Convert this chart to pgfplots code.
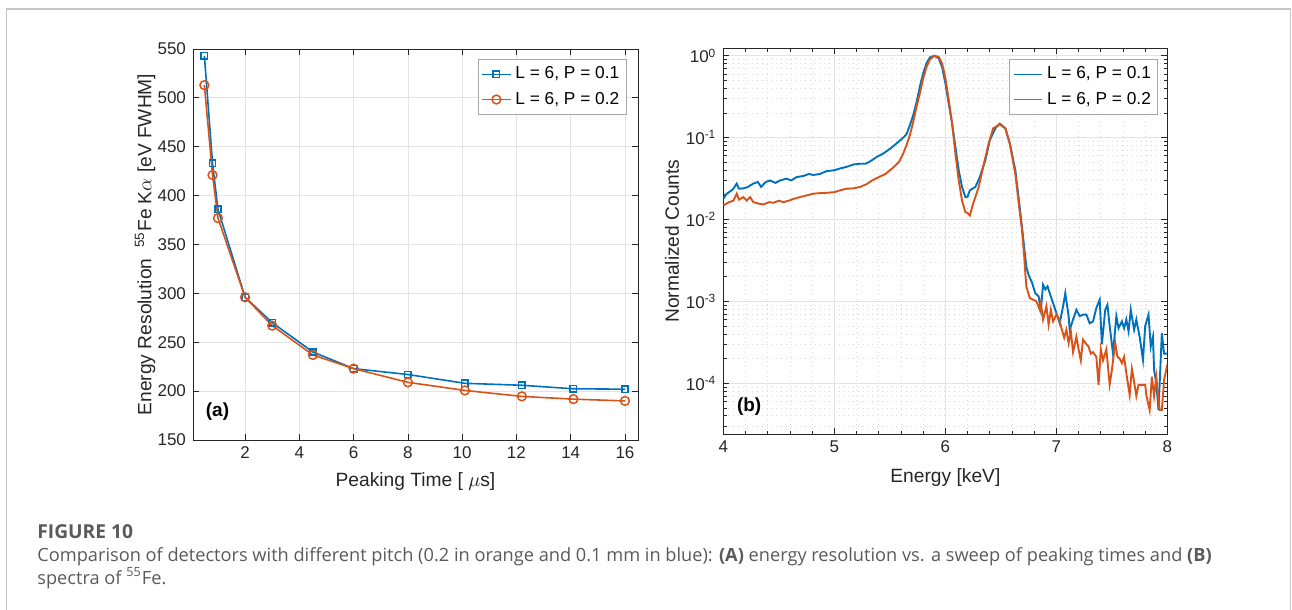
\documentclass[border=0pt]{standalone}
\usepackage{fontspec}
\setmainfont{Liberation Sans}
\newfontfamily\capfont{Open Sans}
\usepackage{pgfplots}
\pgfplotsset{compat=1.18}
\definecolor{mblue}{rgb}{0,0.447,0.741}
\definecolor{morange}{rgb}{0.85,0.325,0.098}
\definecolor{axgray}{rgb}{0.15,0.15,0.15}
\definecolor{capgray}{HTML}{5A5A5A}
\begin{document}
\begin{tikzpicture}
\useasboundingbox (0,0) rectangle (646pt,-305pt);
\draw[gray!45, line width=0.75pt] (3.35pt,-305pt) -- (3.35pt,-4.5pt) -- (645.25pt,-4.5pt) -- (645.25pt,-305pt);
\pgfplotsset{
  every axis/.append style={
    scale only axis,
    axis line style={axgray, line width=0.4pt},
    tick style={axgray, line width=0.4pt},
    major tick length=3pt, minor tick length=1.6pt,
    tick align=inside,
    /pgf/number format/assume math mode=true,
    tick label style={font=\fontsize{8.5}{10}\selectfont, text=axgray},
    label style={font=\fontsize{9.6}{11}\selectfont, text=axgray},
    major grid style={gray!22, line width=0.4pt},
    minor grid style={gray!28, dotted, line width=0.4pt},
    legend style={font=\fontsize{8.65}{10}\selectfont, draw=gray!70, line width=0.5pt, inner sep=1.5pt, row sep=1pt, cells={anchor=west}, text=black},
    legend cell align=left,
    legend image code/.code={\draw[mark repeat=2,mark phase=2,#1] plot coordinates {(0cm,0cm) (0.25cm,0cm) (0.5cm,0cm)};},
  }
}
% ---------- (a) ----------
\begin{axis}[
  at={(96.5pt,-220pt)}, anchor=south west,
  width=222.5pt, height=195.5pt,
  xmin=0.08, xmax=16.48, ymin=150, ymax=550,
  xtick={2,4,...,16}, ytick={150,200,...,550},
  grid=major,
  xlabel={Peaking Time [ $\mu$s]},
  ylabel={Energy Resolution \ \textsuperscript{55}Fe K$\alpha$ [eV FWHM]},
  xlabel style={at={(axis description cs:0.5,0)}, anchor=center, yshift=-20.85pt},
  ylabel style={at={([xshift=-24pt]axis description cs:0,0.5)}, anchor=center},
  legend style={at={(1,1)}, anchor=north east, xshift=-5.6pt, yshift=-5.2pt},
]
\addplot[mblue, line width=0.8pt, mark=square, mark size=1.6pt, mark options={solid, line width=0.75pt}] coordinates {
(0.5,543) (0.8,433) (1.0,386) (2,296) (3,270) (4.5,240) (6,223) (8,217) (10.1,208) (12.2,206) (14.1,202.4) (16,202)};
\addlegendentry{L = 6, P = 0.1}
\addplot[morange, line width=0.8pt, mark=o, mark size=2.2pt, mark options={solid, line width=0.75pt}] coordinates {
(0.5,513) (0.8,421) (1.0,377) (2,296) (3,267) (4.5,237) (6,223) (8,209) (10.1,200.7) (12.2,194.6) (14.1,191.8) (16,190)};
\addlegendentry{L = 6, P = 0.2}
\node[font=\bfseries\fontsize{9.5}{11}\selectfont, text=black] at (rel axis cs:0.055,0.073) {(a)};
\end{axis}
% ---------- (b) ----------
\begin{axis}[
  at={(361.7pt,-217pt)}, anchor=south west,
  width=222pt, height=192.8pt,
  ymode=log, log basis y=10,
  xmin=4, xmax=8, ymin=2.4e-5, ymax=1.23,
  xtick={4,5,6,7,8}, minor x tick num=4,
  ytickten={-4,-3,-2,-1,0},
  minor ytick={3e-5,4e-5,5e-5,6e-5,7e-5,8e-5,9e-5,
    2e-4,3e-4,4e-4,5e-4,6e-4,7e-4,8e-4,9e-4,
    2e-3,3e-3,4e-3,5e-3,6e-3,7e-3,8e-3,9e-3,
    2e-2,3e-2,4e-2,5e-2,6e-2,7e-2,8e-2,9e-2,
    2e-1,3e-1,4e-1,5e-1,6e-1,7e-1,8e-1,9e-1},
  grid=both,
  yticklabel={10\textsuperscript{\pgfmathparse{int(round(\tick))}\pgfmathresult}},
  xlabel={Energy [keV]},
  ylabel={Normalized Counts},
  xlabel style={at={(axis description cs:0.5,0)}, anchor=center, yshift=-22pt},
  ylabel style={at={([xshift=-25.7pt]axis description cs:0,0.5)}, anchor=center},
  legend style={at={(1,1)}, anchor=north east, xshift=-4.5pt, yshift=-5.5pt},
]
\addplot[mblue, line width=0.95pt] coordinates {
(4.00,0.018) (4.03,0.0207) (4.06,0.022) (4.09,0.0238) (4.12,0.0275) (4.14,0.0238) (4.18,0.024) (4.22,0.025)
(4.27,0.0275) (4.31,0.0287) (4.34,0.025) (4.38,0.0287) (4.42,0.030) (4.47,0.028) (4.51,0.030) (4.57,0.0316)
(4.61,0.030) (4.66,0.033) (4.72,0.034) (4.77,0.036) (4.81,0.035) (4.87,0.036) (4.93,0.039) (5.00,0.040)
(5.05,0.042) (5.11,0.044) (5.17,0.047) (5.23,0.048) (5.28,0.048) (5.32,0.051) (5.38,0.058) (5.44,0.064)
(5.50,0.073) (5.56,0.085) (5.62,0.100) (5.65,0.110) (5.68,0.142) (5.71,0.188) (5.74,0.27) (5.77,0.42)
(5.80,0.61) (5.83,0.81) (5.86,0.955) (5.90,1.0) (5.94,0.93) (5.97,0.73) (6.00,0.46) (6.03,0.26)
(6.06,0.15) (6.09,0.077) (6.12,0.040) (6.15,0.025) (6.18,0.0188) (6.20,0.019) (6.22,0.0227) (6.27,0.025)
(6.31,0.033) (6.36,0.053) (6.40,0.093) (6.45,0.13) (6.49,0.148) (6.54,0.13) (6.58,0.085) (6.63,0.040)
(6.67,0.014) (6.69,0.0081) (6.71,0.0045) (6.73,0.0026) (6.75,0.0021) (6.78,0.0017) (6.81,0.00126) (6.84,0.00115)
(6.86,0.00079) (6.88,0.0016) (6.90,0.0014) (6.92,0.00153) (6.94,0.00126) (6.97,0.00095) (7.00,0.00072) (7.03,0.00054)
(7.06,0.00087) (7.08,0.00126) (7.11,0.00066) (7.12,0.00045) (7.15,0.0006) (7.18,0.00079) (7.21,0.00066) (7.24,0.00069)
(7.27,0.00069) (7.30,0.00054) (7.33,0.00057) (7.36,0.00083) (7.39,0.00105) (7.41,0.0003) (7.44,0.00079) (7.46,0.00091)
(7.48,0.0005) (7.51,0.00023) (7.54,0.00066) (7.56,0.00047) (7.59,0.00057) (7.61,0.00047) (7.63,0.0006) (7.65,0.00043)
(7.67,0.00079) (7.70,0.00045) (7.72,0.0006) (7.75,0.00037) (7.78,0.000193) (7.80,0.0005) (7.83,0.00069) (7.85,0.00028)
(7.87,0.00037) (7.88,0.000146) (7.90,0.0001) (7.92,0.000047) (7.95,0.00041) (7.97,0.00023) (8.00,0.00023)};
\addlegendentry{L = 6, P = 0.1}
\addplot[morange, line width=0.95pt] coordinates {
(4.00,0.0149) (4.05,0.0163) (4.09,0.017) (4.12,0.0207) (4.14,0.0175) (4.18,0.0188) (4.21,0.017) (4.24,0.0188)
(4.27,0.0163) (4.32,0.0156) (4.36,0.0153) (4.41,0.0163) (4.45,0.016) (4.50,0.017) (4.54,0.0163) (4.59,0.017)
(4.63,0.0178) (4.69,0.0188) (4.75,0.0197) (4.81,0.0207) (4.87,0.021) (4.93,0.0212) (5.00,0.0216) (5.05,0.0227)
(5.11,0.0238) (5.17,0.024) (5.23,0.025) (5.29,0.027) (5.34,0.030) (5.40,0.033) (5.46,0.036) (5.52,0.042)
(5.58,0.050) (5.62,0.064) (5.65,0.081) (5.68,0.107) (5.71,0.156) (5.74,0.238) (5.77,0.35) (5.80,0.53)
(5.83,0.73) (5.86,0.90) (5.90,1.0) (5.94,0.97) (5.97,0.81) (6.00,0.53) (6.03,0.29) (6.06,0.15)
(6.09,0.064) (6.12,0.030) (6.15,0.017) (6.18,0.0123) (6.20,0.012) (6.22,0.0112) (6.25,0.0156) (6.30,0.025)
(6.34,0.044) (6.39,0.085) (6.43,0.13) (6.49,0.145) (6.54,0.13) (6.58,0.085) (6.63,0.036) (6.67,0.0123)
(6.69,0.0075) (6.71,0.0035) (6.72,0.0022) (6.73,0.0015) (6.76,0.0011) (6.79,0.00105) (6.82,0.001) (6.85,0.00079)
(6.86,0.00095) (6.88,0.0006) (6.91,0.00087) (6.93,0.00052) (6.95,0.00079) (6.97,0.00057) (7.00,0.00069) (7.02,0.00063)
(7.05,0.00045) (7.07,0.00036) (7.09,0.00045) (7.11,0.00031) (7.13,0.00043) (7.15,0.00024) (7.18,0.00037) (7.20,0.00026)
(7.22,0.00019) (7.24,0.00034) (7.27,0.0003) (7.29,0.00028) (7.31,0.00023) (7.33,0.00024) (7.36,0.00021) (7.38,0.0000955)
(7.40,0.00026) (7.42,0.00019) (7.45,0.00026) (7.48,0.000096) (7.50,0.000146) (7.53,0.00031) (7.55,0.00021) (7.57,0.0002)
(7.59,0.000176) (7.61,0.00021) (7.63,0.000133) (7.66,0.000072) (7.68,0.00015) (7.69,0.000127) (7.72,0.00007) (7.74,0.0000955)
(7.76,0.0000955) (7.78,0.0000955) (7.80,0.0000955) (7.81,0.000072) (7.84,0.000047) (7.86,0.00012) (7.88,0.00007) (7.90,0.00012)
(7.93,0.000047) (7.95,0.000047) (7.97,0.00011) (8.00,0.00017)};
\addlegendentry{L = 6, P = 0.2}
\node[font=\bfseries\fontsize{9.5}{11}\selectfont, text=black] at (rel axis cs:0.058,0.072) {(b)};
\end{axis}
% ---------- caption ----------
\node[anchor=west, inner sep=0pt, text=capgray, font=\capfont\bfseries\fontsize{9.6}{11.5}\selectfont] at (18.5pt,-265.9pt) {FIGURE 10};
\node[anchor=west, inner sep=0pt, text=capgray, font=\capfont\fontsize{9.1}{10.9}\selectfont] at (18.5pt,-278.4pt) {Comparison of detectors with different pitch (0.2 in orange and 0.1 mm in blue): \textbf{(A)} energy resolution vs. a sweep of peaking times and \textbf{(B)}};
\node[anchor=west, inner sep=0pt, text=capgray, font=\capfont\fontsize{9.1}{10.9}\selectfont] at (18.5pt,-289.2pt) {spectra of \textsuperscript{55}Fe.};
\end{tikzpicture}
\end{document}
